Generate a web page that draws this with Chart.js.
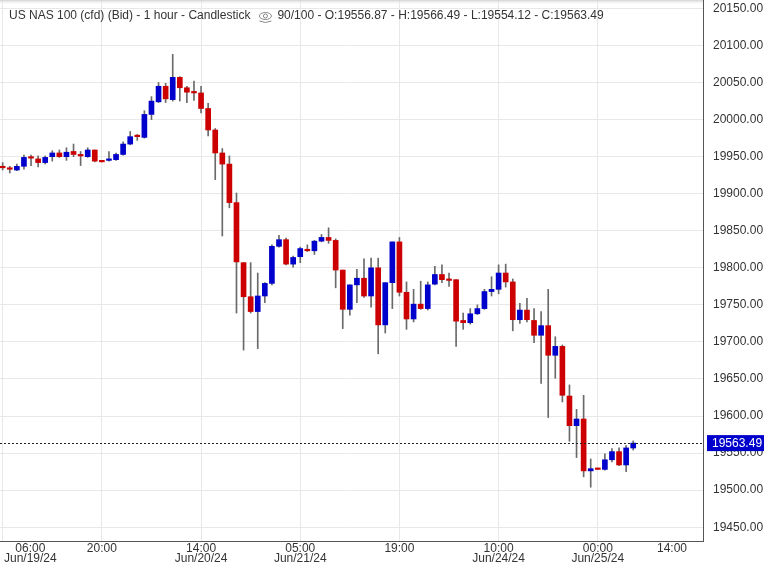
<!DOCTYPE html>
<html><head><meta charset="utf-8">
<script src="https://cdn.jsdelivr.net/npm/chart.js@4.4.1/dist/chart.umd.min.js"></script>
<style>html,body{margin:0;padding:0;background:#fff;overflow:hidden}#wrap{width:768px;height:567px;position:relative}</style>
</head><body><div id="wrap"><canvas id="c"></canvas></div>
<script>
const titleLeft = "US NAS 100 (cfd) (Bid) - 1 hour - Candlestick";
const titleRight = "90/100 - O:19556.87 - H:19566.49 - L:19554.12 - C:19563.49";
const opens = [19936,19935,19932,19937,19950,19947,19942,19950,19955,19950,19957,19953,19950,19959,19944,19945,19946,19953,19967,19978,19976,20007,20024,20045,20027,20057,20043,20037,20036,20015,19986,19955,19940,19888,19807,19761,19741,19762,19779,19829,19838,19805,19815,19825,19823,19836,19841,19837,19797,19744,19777,19786,19762,19800,19723,19780,19835,19767,19731,19751,19745,19778,19791,19784,19784,19729,19726,19738,19745,19768,19771,19793,19781,19730,19743,19729,19709,19722,19682,19694,19627,19587,19596,19526,19529,19528,19541,19552,19534,19556.87];
const highs = [19942,19937,19940,19952,19952,19951,19951,19958,19959,19962,19967,19957,19962,19959,19944,19957,19955,19970,19984,19980,20012,20031,20050,20049,20088,20058,20045,20052,20045,20022,19988,19961,19951,19901,19807,19807,19793,19780,19831,19844,19840,19816,19828,19831,19837,19845,19854,19839,19797,19777,19798,19812,19813,19813,19780,19835,19841,19781,19771,19782,19781,19802,19804,19793,19784,19739,19745,19750,19771,19788,19804,19805,19785,19752,19759,19745,19741,19771,19707,19696,19642,19609,19628,19542,19529,19549,19556,19557,19560,19566.49];
const lows = [19932,19928,19931,19933,19938,19936,19940,19944,19949,19945,19950,19938,19949,19943,19943,19944,19945,19952,19966,19972,19975,20000,20023,20023,20025,20025,20023,20026,20009,19978,19919,19843,19881,19739,19689,19739,19691,19753,19777,19828,19804,19801,19807,19822,19818,19835,19833,19773,19718,19736,19753,19760,19747,19684,19712,19745,19762,19717,19727,19744,19743,19777,19780,19775,19694,19717,19724,19737,19744,19762,19765,19774,19715,19725,19727,19699,19644,19598,19651,19619,19566,19544,19518,19504,19528,19527,19538,19533,19525,19554.12];
const closes = [19935,19933,19937,19949,19948,19942,19949,19955,19950,19956,19953,19951,19959,19944,19943,19946,19953,19967,19977,19977,20007,20025,20045,20028,20057,20043,20037,20036,20015,19986,19955,19940,19888,19808,19761,19741,19762,19779,19829,19838,19805,19814,19826,19823,19836,19841,19837,19797,19744,19777,19786,19762,19800,19723,19780,19835,19767,19731,19751,19745,19777,19791,19784,19783,19728,19726,19738,19745,19768,19771,19793,19781,19730,19743,19730,19709,19722,19682,19694,19628,19587,19596,19526,19529,19528,19541,19552,19534,19557,19563.49];
const xTickIndex = [0,14,28,42,56,70,84,98];
const xTickTime = ["06:00","20:00","14:00","05:00","19:00","10:00","00:00","14:00"];
const xTickDate = ["Jun/19/24","","Jun/20/24","Jun/21/24","","Jun/24/24","Jun/25/24",""];
const yTicks = [19450,19500,19550,19600,19650,19700,19750,19800,19850,19900,19950,20000,20050,20100,20150];
const lastClose = closes[closes.length-1];

const UP = '#0000cc', DOWN = '#cc0000';
const FONT = '"Liberation Sans", Arial, sans-serif';
const idx = opens.map((_, i) => i);
const bodyData = idx.map(i => ({x: i, y: [opens[i], closes[i]]}));
const wickData = idx.map(i => ({x: i, y: [lows[i], highs[i]]}));
const bodyColors = idx.map(i => closes[i] > opens[i] ? UP : DOWN);

const overlay = {
  id: 'overlay',
  afterDraw(chart) {
    const ctx = chart.ctx, xs = chart.scales.x, ys = chart.scales.y, ca = chart.chartArea;
    ctx.save();
    // faint top shading band
    const g = ctx.createLinearGradient(0, 0, 0, 5);
    g.addColorStop(0, 'rgba(200,200,200,0.8)');
    g.addColorStop(1, 'rgba(255,255,255,0)');
    ctx.fillStyle = g; ctx.fillRect(0, 0, ca.right, 5);
    // last price dotted line
    const py = ys.getPixelForValue(lastClose);
    ctx.strokeStyle = '#222'; ctx.lineWidth = 1; ctx.setLineDash([2, 2]);
    ctx.beginPath(); ctx.moveTo(ca.left, Math.round(py) + 0.5); ctx.lineTo(ca.right, Math.round(py) + 0.5); ctx.stroke();
    ctx.setLineDash([]);
    // price box
    ctx.fillStyle = '#0000cc';
    ctx.fillRect(ca.right + 4, py - 8, 57, 16);
    ctx.fillStyle = '#fff'; ctx.font = '12px ' + FONT; ctx.textBaseline = 'middle'; ctx.textAlign = 'left';
    ctx.fillText(lastClose.toFixed(2), ca.right + 9, py + 0.5);
    // x labels
    ctx.fillStyle = '#333'; ctx.textAlign = 'center'; ctx.textBaseline = 'middle';
    xTickIndex.forEach((v, k) => {
      const x = xs.getPixelForValue(v);
      const w = Math.max(ctx.measureText(xTickTime[k]).width, ctx.measureText(xTickDate[k]).width);
      let cx = x;
      if (cx - w / 2 < 4) cx = 4 + w / 2;
      if (cx + w / 2 > 687) cx = 687 - w / 2;
      ctx.fillText(xTickTime[k], cx, ca.bottom + 8);
      if (xTickDate[k]) ctx.fillText(xTickDate[k], cx, ca.bottom + 18);
    });
    // header
    ctx.textAlign = 'left'; ctx.fillStyle = '#333'; ctx.font = '12px ' + FONT;
    ctx.fillText(titleLeft, 9, 16);
    const tw = ctx.measureText(titleLeft).width;
    const ex = 9 + tw + 15, ey = 16;
    ctx.strokeStyle = '#888'; ctx.lineWidth = 1;
    ctx.beginPath(); ctx.ellipse(ex, ey, 6, 3.5, 0, 0, Math.PI * 2); ctx.stroke();
    ctx.beginPath(); ctx.arc(ex, ey, 2, 0, Math.PI * 2); ctx.stroke();
    ctx.beginPath(); ctx.moveTo(ex - 6, ey + 5); ctx.quadraticCurveTo(ex, ey + 8, ex + 6, ey + 5); ctx.stroke();
    ctx.fillText(titleRight, ex + 12, 16);
    ctx.restore();
  }
};

new Chart(document.getElementById('c'), {
  type: 'bar',
  data: {
    datasets: [
      {label: 'body', data: bodyData, backgroundColor: bodyColors, borderWidth: 0, barThickness: 5, minBarLength: 1.5, grouped: false, order: 0},
      {label: 'wick', data: wickData, backgroundColor: '#6a6a6a', borderWidth: 0, barThickness: 1, grouped: false, order: 1}
    ]
  },
  options: {
    responsive: true, maintainAspectRatio: false, animation: false,
    layout: {padding: 0},
    plugins: {legend: {display: false}, tooltip: {enabled: false}, title: {display: false}},
    scales: {
      x: {
        type: 'linear', min: -0.38, max: 98.85, offset: false,
        grid: {color: '#e8e8e8', drawTicks: false, offset: false},
        border: {display: true, color: '#555'},
        ticks: {display: false},
        afterBuildTicks: s => { s.ticks = xTickIndex.slice(0, 7).map(v => ({value: v})); },
        afterFit: s => { s.height = 26; s.paddingLeft = 0; s.paddingRight = 0; }
      },
      y: {
        position: 'right', min: 19431.4, max: 20161.4,
        grid: {color: '#e8e8e8', drawTicks: false},
        border: {display: true, color: '#555'},
        ticks: {color: '#333', font: {size: 12, family: FONT}, padding: 10, callback: v => Number(v).toFixed(2)},
        afterBuildTicks: s => { s.ticks = yTicks.map(v => ({value: v})); },
        afterFit: s => { s.width = 65; s.paddingTop = 0; s.paddingBottom = 0; }
      }
    }
  },
  plugins: [overlay]
});
</script></body></html>
